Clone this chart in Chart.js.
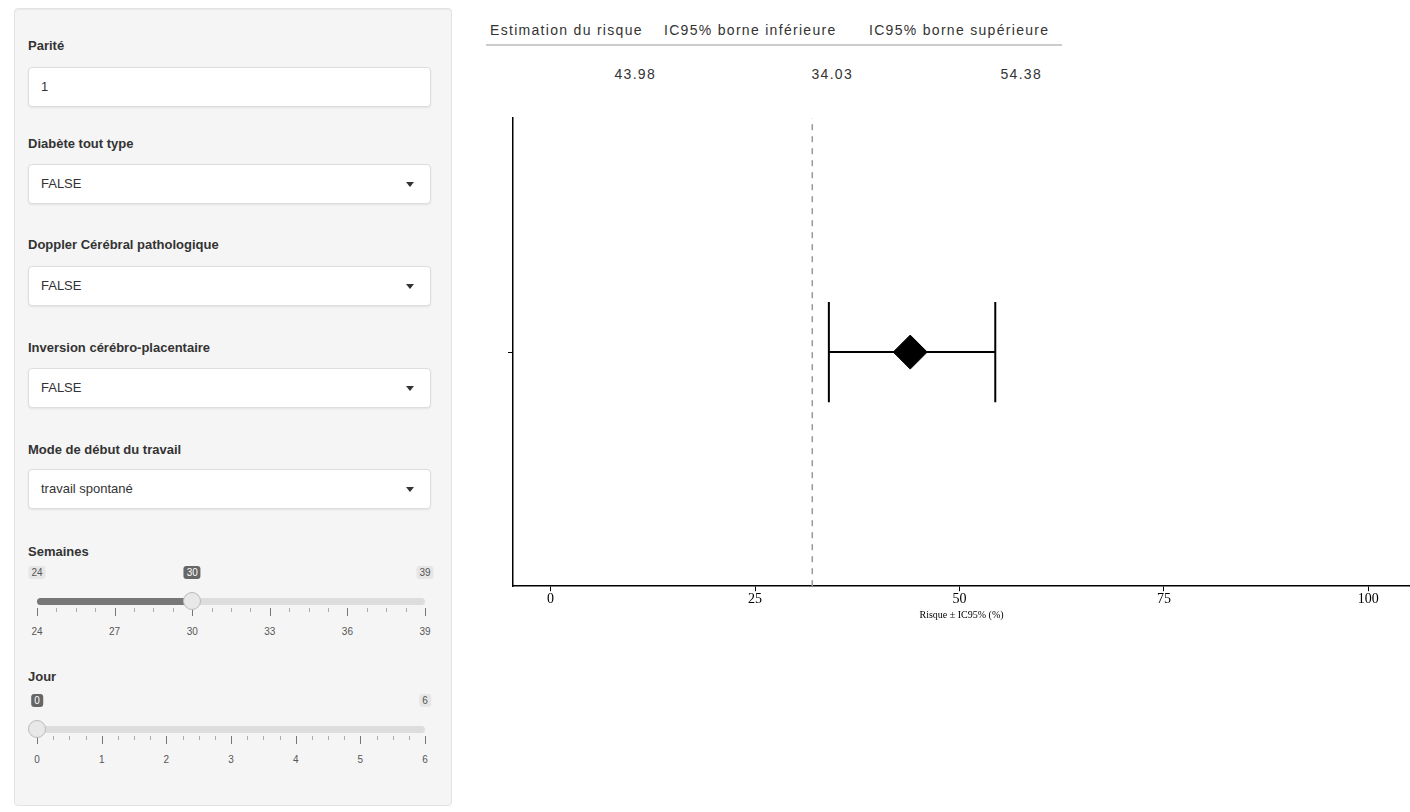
<!DOCTYPE html>
<html lang="fr">
<head>
<meta charset="utf-8">
<script src="https://cdn.jsdelivr.net/npm/chart.js@4.4.1/dist/chart.umd.min.js"></script>
<style>
  body { margin: 0; background: #fff; font-family: "Liberation Sans", Arial, sans-serif; color: #333; }
  .well { position: absolute; left: 14px; top: 8px; width: 436px; height: 796px; background: #f5f5f5;
          border: 1px solid #e3e3e3; border-radius: 4px; box-shadow: inset 0 1px 1px rgba(0,0,0,.05); }
  .lbl { position: absolute; left: 13px; font-size: 13px; font-weight: bold; color: #333; }
  .inp { position: absolute; left: 13px; width: 403px; height: 40px; background: #fff; border: 1px solid #ddd;
         border-radius: 4px; box-shadow: 0 1px 2px rgba(0,0,0,.08); font-size: 13px; line-height: 38px;
         padding-left: 12px; box-sizing: border-box; color: #333; }
  .caret { position: absolute; right: 16px; top: 17px; width: 0; height: 0; border-left: 4px solid transparent;
           border-right: 4px solid transparent; border-top: 5px solid #333; }
  .slider { position: absolute; left: 16px; width: 400px; height: 70px; }
  .track { position: absolute; left: 6px; right: 6px; top: 32px; height: 7px; background: #ddd; border-radius: 4px; }
  .bar { position: absolute; left: 6px; top: 32px; height: 7px; background: #777; border-radius: 4px; }
  .handle { position: absolute; top: 26px; width: 18px; height: 18px; margin-left: -9px; border-radius: 50%;
            background: #e8e8e8; border: 1px solid #bbb; box-sizing: border-box; }
  .mm { position: absolute; top: 0; font-size: 10px; background: #e6e6e6; color: #555; padding: 1px 3px; border-radius: 3px; transform: translateX(-50%); }
  .cur { position: absolute; top: 0; font-size: 10px; background: #666; color: #fff; padding: 1px 3px; border-radius: 3px; transform: translateX(-50%); }
  .tick { position: absolute; top: 42px; width: 1px; height: 8px; background: #777; }
  .mtick { position: absolute; top: 42px; width: 1px; height: 4px; background: #aaa; }
  .tlab { position: absolute; top: 60px; font-size: 10px; color: #555; transform: translateX(-50%); }
  table.res { position: absolute; left: 486px; top: 18px; border-collapse: collapse; table-layout: fixed;
              font-size: 14px; letter-spacing: 1.3px; color: #333; white-space: nowrap; }
  table.res th { font-weight: normal; padding: 4px 0 6px 4px; border-bottom: 2px solid #ccc; text-align: left; }
  table.res td { padding: 20px 4px 0 0; text-align: right; }
  table.res td:nth-child(2) { padding-right: 12px; }
  table.res td:nth-child(3) { padding-right: 20px; }
  #wrap { position: absolute; left: 490px; top: 100px; width: 920px; height: 521px; }
</style>
</head>
<body>
<div class="well">
  <div class="lbl" style="top:29px">Parité</div>
  <div class="inp" style="top:58px">1</div>

  <div class="lbl" style="top:127px">Diabète tout type</div>
  <div class="inp" style="top:155px">FALSE<span class="caret"></span></div>

  <div class="lbl" style="top:228px">Doppler Cérébral pathologique</div>
  <div class="inp" style="top:257px">FALSE<span class="caret"></span></div>

  <div class="lbl" style="top:331px">Inversion cérébro-placentaire</div>
  <div class="inp" style="top:359px">FALSE<span class="caret"></span></div>

  <div class="lbl" style="top:433px">Mode de début du travail</div>
  <div class="inp" style="top:460px">travail spontané<span class="caret"></span></div>

  <div class="lbl" style="top:535px">Semaines</div>
  <div class="slider" id="sem" style="top:557px"></div>

  <div class="lbl" style="top:660px">Jour</div>
  <div class="slider" id="jour" style="top:685px"></div>
</div>

<table class="res" id="tab">
  <colgroup><col style="width:174px"><col style="width:205px"><col style="width:197px"></colgroup>
</table>

<div id="wrap"><canvas id="forest"></canvas></div>

<script>
// valeurs
const categories = ['Risque'];
const estimate = [43.98];
const lowerCI = [34.03];
const upperCI = [54.38];
const refValue = [32];
const xTicks = [0, 25, 50, 75, 100];
const tableHeaders = ['Estimation du risque', 'IC95% borne inférieure', 'IC95% borne supérieure'];

// sliders
const semTicks = [24, 27, 30, 33, 36, 39];
const semValue = 30;
const jourTicks = [0, 1, 2, 3, 4, 5, 6];
const jourValue = 0;

function CrearSlider(id, ticks, value, filled) {
  let el = document.getElementById(id)
  let min = ticks[0], max = ticks[ticks.length - 1]
  let w = 388
  let pos = v => 6 + (v - min) / (max - min) * w
  let html = '<div class="track"></div>'
  if (filled) html += `<div class="bar" style="width:${pos(value) - 6}px"></div>`
  html += `<span class="mm" style="left:${pos(min)}px">${min}</span>`
  html += `<span class="mm" style="left:${pos(max)}px">${max}</span>`
  html += `<span class="cur" style="left:${pos(value)}px">${value}</span>`
  for (let i = 0; i < ticks.length; i++) {
    html += `<span class="tick" style="left:${pos(ticks[i])}px"></span>`
    html += `<span class="tlab" style="left:${pos(ticks[i])}px">${ticks[i]}</span>`
    if (i < ticks.length - 1) {
      for (let k = 1; k < 4; k++) {
        let v = ticks[i] + (ticks[i + 1] - ticks[i]) * k / 4
        html += `<span class="mtick" style="left:${pos(v)}px"></span>`
      }
    }
  }
  html += `<span class="handle" style="left:${pos(value)}px"></span>`
  el.innerHTML = html
}
CrearSlider('sem', semTicks, semValue, true)
CrearSlider('jour', jourTicks, jourValue, false)

// tableau
let tab = document.getElementById('tab')
tab.insertAdjacentHTML('beforeend', '<tr>' + tableHeaders.map(h => `<th>${h}</th>`).join('') + '</tr>' +
  '<tr>' + [estimate[0], lowerCI[0], upperCI[0]].map(v => `<td>${v.toFixed(2)}</td>`).join('') + '</tr>')

// forest plot
const capH = 0.214
let datasets = []
categories.forEach((c, i) => {
  datasets.push({ type: 'line', data: [{x: lowerCI[i], y: i}, {x: upperCI[i], y: i}], borderColor: '#000', borderWidth: 2, pointRadius: 0 })
  datasets.push({ type: 'line', data: [{x: lowerCI[i], y: i - capH}, {x: lowerCI[i], y: i + capH}], borderColor: '#000', borderWidth: 2, pointRadius: 0 })
  datasets.push({ type: 'line', data: [{x: upperCI[i], y: i - capH}, {x: upperCI[i], y: i + capH}], borderColor: '#000', borderWidth: 2, pointRadius: 0 })
  datasets.push({ type: 'scatter', data: [{x: estimate[i], y: i}], pointStyle: 'rectRot', pointRadius: 17,
    backgroundColor: '#000', borderColor: '#000', borderWidth: 1 })
})
datasets.push({ type: 'line', data: [{x: refValue[0], y: -1}, {x: refValue[0], y: 1}], borderColor: '#999',
  borderWidth: 1.5, borderDash: [6, 6], pointRadius: 0 })

new Chart('forest', {
  type: 'scatter',
  data: { datasets: datasets },
  options: {
    responsive: true,
    maintainAspectRatio: false,
    animation: false,
    layout: { autoPadding: false, padding: { left: 18, top: 18, right: 0, bottom: 0 } },
    plugins: { legend: { display: false }, tooltip: { enabled: false } },
    scales: {
      x: {
        type: 'linear', min: -4.6, max: 105.1,
        afterBuildTicks: axis => { axis.ticks = xTicks.map(v => ({ value: v })) },
        grid: { display: true, drawOnChartArea: false, color: '#000', tickLength: 5 },
        border: { display: true, color: '#000', width: 1.5 },
        ticks: { color: '#000', font: { family: 'Liberation Serif', size: 14 }, padding: 0, maxRotation: 0 },
        title: { display: true, text: 'Risque ± IC95% (%)', color: '#000', font: { family: 'Liberation Serif', size: 10 }, padding: { top: 1, bottom: 0 } }
      },
      y: {
        type: 'linear', min: -1, max: 1,
        afterBuildTicks: axis => { axis.ticks = [{ value: 0 }] },
        grid: { display: true, drawOnChartArea: false, color: '#000', tickLength: 5 },
        border: { display: true, color: '#000', width: 1.5 },
        ticks: { display: false }
      }
    }
  }
})
</script>
</body>
</html>
